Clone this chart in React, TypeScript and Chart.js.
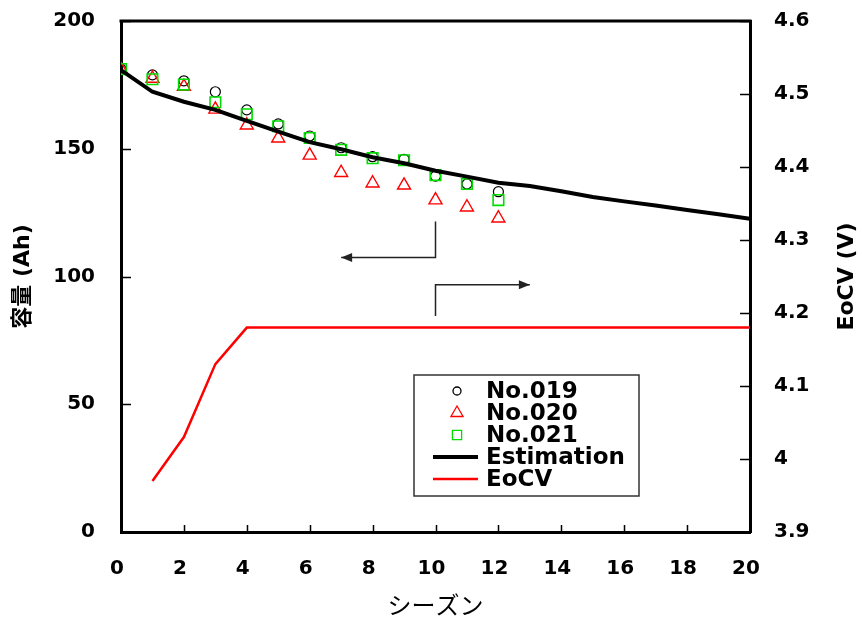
import React, { useEffect, useRef } from 'react';
import { Chart, registerables } from 'chart.js';

Chart.register(...registerables);

// ---- data ----
const MEAS_SEASONS = [0, 1, 2, 3, 4, 5, 6, 7, 8, 9, 10, 11, 12];
const NO019 = [181.2, 178.9, 176.6, 172.3, 165.2, 159.7, 155.0, 150.4, 146.9, 145.9, 139.3, 136.2, 133.2];
const NO020 = [181.0, 177.5, 174.3, 165.4, 159.2, 154.1, 147.4, 140.6, 136.5, 135.7, 129.9, 127.1, 122.8];
const NO021 = [181.2, 177.2, 175.1, 168.2, 163.5, 158.8, 154.2, 149.6, 146.3, 145.5, 139.7, 136.2, 129.9];

const EST_SEASONS = [0, 1, 2, 3, 4, 5, 6, 7, 8, 9, 10, 11, 12, 13, 14, 15, 16, 17, 18, 19, 20];
const ESTIMATION = [180.8, 172.3, 168.4, 165.2, 160.9, 156.7, 152.6, 149.8, 146.7, 144.3, 141.4, 139.1, 136.7, 135.4, 133.4, 131.1, 129.4, 127.8, 126.0, 124.4, 122.6];

const EOCV_SEASONS = [1, 2, 3, 4, 20];
const EOCV = [3.97, 4.03, 4.13, 4.18, 4.18];

const SERIES_LABELS = ['No.019', 'No.020', 'No.021', 'Estimation', 'EoCV'];
const X_TITLE = 'シーズン';
const Y_TITLE = '容量 (Ah)';
const Y2_TITLE = 'EoCV (V)';

// annotation arrows (data units: x = season, y = capacity)
const ARROW_TO_LEFT_AXIS = [
  { x: 10, y: 121.5 },
  { x: 10, y: 107.4 },
  { x: 7, y: 107.4 },
];
const ARROW_TO_RIGHT_AXIS = [
  { x: 10, y: 84.5 },
  { x: 10, y: 96.8 },
  { x: 13, y: 96.8 },
];

const pts = (xs: number[], ys: number[]) => xs.map((x, i) => ({ x, y: ys[i] }));

const TICK_FONT = { family: "'DejaVu Sans', 'Liberation Sans', sans-serif", size: 20, weight: 'bold' as const };

function drawMarker(ctx: CanvasRenderingContext2D, style: string, x: number, y: number, r: number, color: string, lw: number) {
  ctx.save();
  ctx.strokeStyle = color;
  ctx.lineWidth = lw;
  ctx.beginPath();
  if (style === 'circle') {
    ctx.arc(x, y, r, 0, Math.PI * 2);
  } else if (style === 'triangle') {
    ctx.moveTo(x, y - r);
    ctx.lineTo(x + r * Math.sin((2 * Math.PI) / 3), y + r * 0.5);
    ctx.lineTo(x - r * Math.sin((2 * Math.PI) / 3), y + r * 0.5);
    ctx.closePath();
  } else {
    const s = r * Math.SQRT1_2;
    ctx.rect(x - s, y - s, 2 * s, 2 * s);
  }
  ctx.stroke();
  ctx.restore();
}

const framePlugin = {
  id: 'frameAndTicks',
  afterDraw(chart: any) {
    const { ctx, chartArea } = chart;
    const { left, right, top, bottom } = chartArea;
    ctx.save();
    // top border
    ctx.strokeStyle = '#000';
    ctx.lineWidth = 3;
    ctx.beginPath();
    ctx.moveTo(left - 1.5, top);
    ctx.lineTo(right + 1.5, top);
    ctx.stroke();
    // inner ticks
    ctx.lineWidth = 1.5;
    const sx = chart.scales.x;
    const sy = chart.scales.y;
    const sy2 = chart.scales.y2;
    ctx.beginPath();
    sx.ticks.forEach((t: any) => {
      const p = Math.round(sx.getPixelForValue(t.value)) + 0.5;
      ctx.moveTo(p, bottom);
      ctx.lineTo(p, bottom - 7);
    });
    sy.ticks.forEach((t: any) => {
      const p = Math.round(sy.getPixelForValue(t.value)) + 0.5;
      ctx.moveTo(left, p);
      ctx.lineTo(left + 10, p);
    });
    sy2.ticks.forEach((t: any) => {
      const p = Math.round(sy2.getPixelForValue(t.value)) + 0.5;
      ctx.moveTo(right, p);
      ctx.lineTo(right - 10, p);
    });
    ctx.stroke();

    // right axis title, reading bottom to top
    ctx.fillStyle = '#000';
    ctx.font = "bold 22px 'DejaVu Sans', sans-serif";
    ctx.textAlign = 'center';
    ctx.textBaseline = 'middle';
    ctx.translate(chart.width - 15, (top + bottom) / 2);
    ctx.rotate(-Math.PI / 2);
    ctx.fillText(Y2_TITLE, 0, 0);
    ctx.restore();
  },
};

const arrowPlugin = {
  id: 'arrows',
  afterDatasetsDraw(chart: any) {
    const { ctx } = chart;
    const sx = chart.scales.x;
    const sy = chart.scales.y;
    const drawArrow = (path: { x: number; y: number }[]) => {
      const p = path.map((q) => ({ x: sx.getPixelForValue(q.x), y: sy.getPixelForValue(q.y) }));
      ctx.save();
      ctx.strokeStyle = '#222';
      ctx.fillStyle = '#222';
      ctx.lineWidth = 1.5;
      ctx.beginPath();
      ctx.moveTo(p[0].x, p[0].y);
      for (let i = 1; i < p.length; i++) ctx.lineTo(p[i].x, p[i].y);
      ctx.stroke();
      const a = p[p.length - 2];
      const b = p[p.length - 1];
      const ang = Math.atan2(b.y - a.y, b.x - a.x);
      const L = 11;
      const W = 4.5;
      ctx.beginPath();
      ctx.moveTo(b.x, b.y);
      ctx.lineTo(b.x - L * Math.cos(ang) + W * Math.sin(ang), b.y - L * Math.sin(ang) - W * Math.cos(ang));
      ctx.lineTo(b.x - L * Math.cos(ang) - W * Math.sin(ang), b.y - L * Math.sin(ang) + W * Math.cos(ang));
      ctx.closePath();
      ctx.fill();
      ctx.restore();
    };
    drawArrow(ARROW_TO_LEFT_AXIS);
    drawArrow(ARROW_TO_RIGHT_AXIS);
  },
};

const legendPlugin = {
  id: 'boxLegend',
  afterDraw(chart: any, _args: any, opts: any) {
    const { ctx } = chart;
    const { x, y, w, h, firstRow, rowGap, markerX, lineX0, lineX1, textX } = opts;
    ctx.save();
    ctx.fillStyle = '#fff';
    ctx.fillRect(x, y, w, h);
    ctx.strokeStyle = '#333';
    ctx.lineWidth = 1.5;
    ctx.strokeRect(x, y, w, h);
    const datasets = chart.data.datasets;
    datasets.forEach((ds: any, i: number) => {
      const cy = firstRow + i * rowGap;
      if (ds.showLine) {
        ctx.strokeStyle = ds.borderColor;
        ctx.lineWidth = ds.borderWidth;
        ctx.beginPath();
        ctx.moveTo(lineX0, cy);
        ctx.lineTo(lineX1, cy);
        ctx.stroke();
      } else {
        const r = ds.pointStyle === 'circle' ? 4 : ds.pointStyle === 'triangle' ? 7 : 6.5;
        drawMarker(ctx, ds.pointStyle, markerX, cy, r, ds.borderColor, 1.3);
      }
      ctx.fillStyle = '#000';
      ctx.font = "bold 23px 'DejaVu Sans', sans-serif";
      ctx.textAlign = 'left';
      ctx.textBaseline = 'middle';
      ctx.fillText(ds.label, textX, cy + 1);
    });
    ctx.restore();
  },
};

const fitVertical = (width: number) => (s: any) => {
  s.width = width;
  s.paddingTop = 0;
  s.paddingBottom = 0;
};

export default function App() {
  const canvasRef = useRef<HTMLCanvasElement | null>(null);

  useEffect(() => {
    const canvas = canvasRef.current;
    if (!canvas) return;
    const chart = new Chart(canvas, {
      type: 'scatter',
      data: {
        datasets: [
          {
            label: SERIES_LABELS[0],
            data: pts(MEAS_SEASONS, NO019),
            showLine: false,
            pointStyle: 'circle',
            pointRadius: 5,
            pointBorderWidth: 1.2,
            borderColor: '#000',
            backgroundColor: 'rgba(0,0,0,0)',
            yAxisID: 'y',
            order: 4,
          },
          {
            label: SERIES_LABELS[1],
            data: pts(MEAS_SEASONS, NO020),
            showLine: false,
            pointStyle: 'triangle',
            pointRadius: 7.5,
            pointBorderWidth: 1.4,
            borderColor: '#ff0000',
            backgroundColor: 'rgba(0,0,0,0)',
            yAxisID: 'y',
            order: 3,
          },
          {
            label: SERIES_LABELS[2],
            data: pts(MEAS_SEASONS, NO021),
            showLine: false,
            pointStyle: 'rect',
            pointRadius: 7.5,
            pointBorderWidth: 1.6,
            borderColor: '#00dd00',
            backgroundColor: 'rgba(0,0,0,0)',
            yAxisID: 'y',
            order: 2,
          },
          {
            label: SERIES_LABELS[3],
            data: pts(EST_SEASONS, ESTIMATION),
            showLine: true,
            borderColor: '#000',
            borderWidth: 4,
            pointRadius: 0,
            tension: 0,
            yAxisID: 'y',
            order: 0,
          },
          {
            label: SERIES_LABELS[4],
            data: pts(EOCV_SEASONS, EOCV),
            showLine: true,
            borderColor: '#ff0000',
            borderWidth: 2.5,
            pointRadius: 0,
            tension: 0,
            yAxisID: 'y2',
            order: 1,
          },
        ] as any,
      },
      options: {
        responsive: false,
        animation: false,
        color: '#000',
        layout: { padding: { left: 0, right: 0, top: 21, bottom: 0 } },
        plugins: {
          legend: { display: false },
          tooltip: { enabled: false },
          boxLegend: {
            x: 414,
            y: 375,
            w: 225,
            h: 121,
            firstRow: 391,
            rowGap: 22,
            markerX: 457,
            lineX0: 433,
            lineX1: 478,
            textX: 486,
          },
        } as any,
        scales: {
          x: {
            type: 'linear',
            min: 0,
            max: 20,
            afterFit: (s: any) => {
              s.height = 88;
              s.paddingLeft = 0;
              s.paddingRight = 0;
            },
            grid: { drawOnChartArea: false, drawTicks: false },
            border: { display: true, color: '#000', width: 3 },
            ticks: { stepSize: 2, padding: 25, labelOffset: -4, color: '#000', font: TICK_FONT, maxRotation: 0 },
            title: {
              display: true,
              text: X_TITLE,
              color: '#000',
              font: { family: "'Noto Sans CJK JP', sans-serif", size: 24, weight: 'normal' },
              padding: { top: 0, bottom: 1 },
            },
          },
          y: {
            type: 'linear',
            position: 'left',
            min: 0,
            max: 200,
            afterFit: fitVertical(121),
            grid: { drawOnChartArea: false, drawTicks: false },
            border: { display: true, color: '#000', width: 3 },
            ticks: { stepSize: 50, padding: 26, color: '#000', font: TICK_FONT },
            title: {
              display: true,
              text: Y_TITLE,
              color: '#000',
              font: { family: "'DejaVu Sans', 'Noto Sans CJK JP', sans-serif", size: 22, weight: 'bold' },
              padding: { top: 10, bottom: 0 },
            },
          },
          y2: {
            type: 'linear',
            position: 'right',
            min: 3.9,
            max: 4.6,
            afterFit: fitVertical(112),
            grid: { drawOnChartArea: false, drawTicks: false },
            border: { display: true, color: '#000', width: 3 },
            ticks: {
              stepSize: 0.1,
              padding: 24,
              color: '#000',
              font: TICK_FONT,
              callback: (v: any) => String(Math.round(Number(v) * 10) / 10),
            },
          },
        } as any,
      },
      plugins: [framePlugin, arrowPlugin, legendPlugin],
    });
    return () => chart.destroy();
  }, []);

  return (
    <div style={{ position: 'fixed', left: 0, top: 0, width: 862, height: 620, background: '#fff' }}>
      <canvas ref={canvasRef} width={862} height={620} style={{ display: 'block', width: 862, height: 620 }} />
    </div>
  );
}
